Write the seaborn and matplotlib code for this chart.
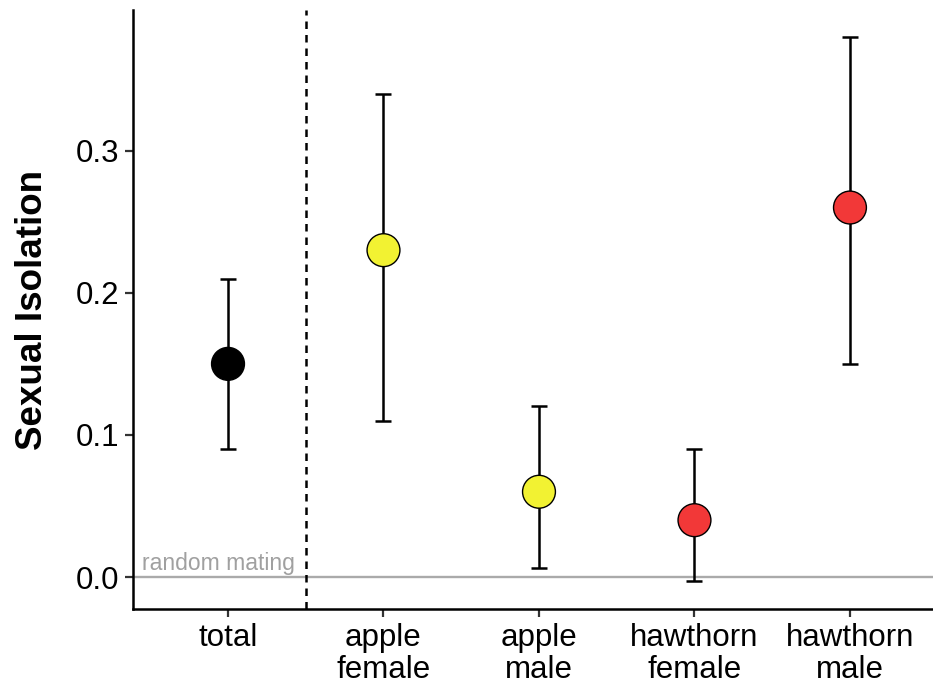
import matplotlib
matplotlib.use("Agg")
import matplotlib.pyplot as plt
import seaborn as sns
import pandas as pd

categories = ["total", "apple\nfemale", "apple\nmale", "hawthorn\nfemale", "hawthorn\nmale"]
values = [0.15, 0.23, 0.06, 0.04, 0.26]
lower = [0.09, 0.11, 0.006, -0.003, 0.15]
upper = [0.21, 0.34, 0.12, 0.09, 0.38]
colors = ["#000000", "#F2F232", "#F2F232", "#F23838", "#F23838"]
yticks = [0.0, 0.1, 0.2, 0.3]

sns.set_theme(style="ticks")
plt.rcParams["font.family"] = ["Liberation Sans", "DejaVu Sans"]

df = pd.DataFrame({"cat": categories, "val": values, "lo": lower, "hi": upper, "col": colors})

fig = plt.figure(figsize=(9.33, 6.85), dpi=100)
ax = fig.add_axes([133/933, (685-609)/685, 1 - 133/933, (609-10)/685])

xs = list(range(len(categories)))
ax.axhline(0, color="#AAAAAA", lw=1.7, zorder=1)
ax.axvline(0.5, color="black", lw=1.8, ls=(0, (3.0, 2.4)), zorder=1)
ax.errorbar(xs, df["val"], yerr=[df["val"] - df["lo"], df["hi"] - df["val"]],
            fmt="none", ecolor="black", elinewidth=1.8, capsize=5.5, capthick=1.8, zorder=2)
sns.scatterplot(data=df, x="cat", y="val", hue="cat", palette=dict(zip(categories, colors)),
                s=560, edgecolor="black", linewidth=1.0, legend=False, ax=ax, zorder=3)

ax.text(-0.55, 0.0012, "random mating", color="#A0A0A0", fontsize=16.5, ha="left", va="bottom")

ax.set_xlim(-0.611, 4.534)
ax.set_ylim(-0.0225, 0.399)
ax.set_yticks(yticks)
ax.set_yticklabels([f"{t:.1f}" for t in yticks], fontsize=22.5)
ax.set_xticks(xs)
ax.set_xticklabels(categories, fontsize=22.5, linespacing=1.1)
ax.set_xlabel("")
ax.set_ylabel("Sexual Isolation", fontsize=26.5, fontweight="bold", labelpad=18, color="black")
ax.tick_params(axis="both", length=6, width=1.6, color="#333333", labelcolor="black", pad=4)
for s in ["top", "right"]:
    ax.spines[s].set_visible(False)
for s in ["left", "bottom"]:
    ax.spines[s].set_linewidth(1.8)
    ax.spines[s].set_color("black")

fig.savefig("out.png", dpi=100)
